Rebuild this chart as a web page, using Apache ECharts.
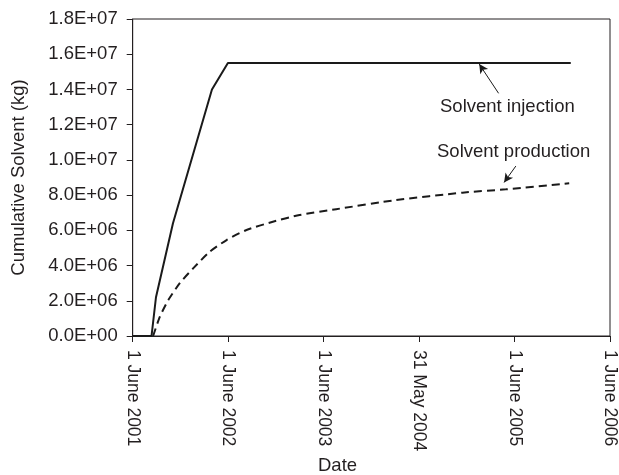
<!DOCTYPE html>
<html>
<head>
<meta charset="utf-8">
<script src="https://cdn.jsdelivr.net/npm/echarts@6/dist/echarts.min.js"></script>
<style>
html,body{margin:0;padding:0;background:#fff;}
#chart{width:619px;height:475px;}
</style>
</head>
<body>
<div id="chart"></div>
<script>
// x values are days after 1 June 2001
var xTickLabels = ['1 June 2001', '1 June 2002', '1 June 2003', '31 May 2004', '1 June 2005', '1 June 2006'];
var injectionDays   = [0, 72, 89, 154, 303, 364, 1675];
var injectionValues = [0, 0, 2.2e6, 6.4e6, 1.40e7, 1.55e7, 1.55e7];
var productionDays   = [78, 104, 136, 180, 231, 295, 359, 435, 536, 638, 778, 1007, 1261, 1427, 1669];
var productionValues = [0, 1.1e6, 2.04e6, 3.0e6, 3.84e6, 4.79e6, 5.45e6, 6.02e6, 6.49e6, 6.87e6, 7.2e6, 7.72e6, 8.14e6, 8.33e6, 8.67e6];
// annotation arrows: [startDay, startValue, endDay, endValue]
var injectionArrow  = [1399, 1.378e7, 1325, 1.544e7];
var productionArrow = [1465, 9.65e6, 1420, 8.72e6];

function zip(a, b) { return a.map(function (v, i) { return [v, b[i]]; }); }
function sci(v) {
  if (v === 0) return '0.0E+00';
  var e = Math.floor(Math.log10(Math.abs(v)) + 1e-9);
  var m = v / Math.pow(10, e);
  return m.toFixed(1) + 'E+' + (e < 10 ? '0' + e : e);
}
var FONT = '"Liberation Sans", Arial, sans-serif';
var FS = 18.5;
var TXT = '#231f20';
var chart = echarts.init(document.getElementById('chart'));
chart.setOption({
  animation: false,
  backgroundColor: '#fff',
  grid: { left: 132.7, right: 8, top: 19, bottom: 139, show: true, borderColor: '#231f20', borderWidth: 1 },
  xAxis: {
    type: 'value', min: 0, max: 1825, interval: 365,
    axisLine: { lineStyle: { color: '#231f20', width: 1 } },
    axisTick: { show: true, length: 6, lineStyle: { color: '#231f20' } },
    splitLine: { show: false },
    axisLabel: {
      rotate: -90, margin: 14, color: TXT, fontFamily: FONT, fontSize: 17.5,
      formatter: function (v) { return xTickLabels[Math.round(v / 365)]; }
    }
  },
  yAxis: {
    type: 'value', min: 0, max: 1.8e7, interval: 2e6,
    name: 'Cumulative Solvent (kg)', nameLocation: 'middle', nameGap: 104,
    nameTextStyle: { color: TXT, fontFamily: FONT, fontSize: FS },
    axisLine: { show: true, lineStyle: { color: '#231f20', width: 1 } },
    axisTick: { show: true, length: 6, lineStyle: { color: '#231f20' } },
    splitLine: { show: false },
    axisLabel: { margin: 15, color: TXT, fontFamily: FONT, fontSize: FS, formatter: sci }
  },
  series: [
    {
      type: 'line', name: 'Solvent injection', data: zip(injectionDays, injectionValues),
      symbol: 'none', lineStyle: { color: '#1a1a1a', width: 2 },
      markLine: {
        silent: true, symbol: ['none', 'arrow'], symbolSize: [7, 9],
        lineStyle: { color: '#1a1a1a', width: 1, type: 'solid' }, label: { show: false },
        data: [[{ coord: [injectionArrow[0], injectionArrow[1]] }, { coord: [injectionArrow[2], injectionArrow[3]] }]]
      }
    },
    {
      type: 'line', name: 'Solvent production', data: zip(productionDays, productionValues),
      symbol: 'none', smooth: 0.2, lineStyle: { color: '#1a1a1a', width: 2, type: [8, 5] },
      markLine: {
        silent: true, symbol: ['none', 'arrow'], symbolSize: [7, 9],
        lineStyle: { color: '#1a1a1a', width: 1, type: 'solid' }, label: { show: false },
        data: [[{ coord: [productionArrow[0], productionArrow[1]] }, { coord: [productionArrow[2], productionArrow[3]] }]]
      }
    }
  ],
  graphic: [
    { type: 'text', left: 440, top: 97, style: { text: 'Solvent injection', fill: TXT, font: FS + 'px ' + FONT } },
    { type: 'text', left: 437, top: 142, style: { text: 'Solvent production', fill: TXT, font: FS + 'px ' + FONT } },
    { type: 'text', left: 318, top: 456, style: { text: 'Date', fill: TXT, font: FS + 'px ' + FONT } }
  ]
});
</script>
</body>
</html>
